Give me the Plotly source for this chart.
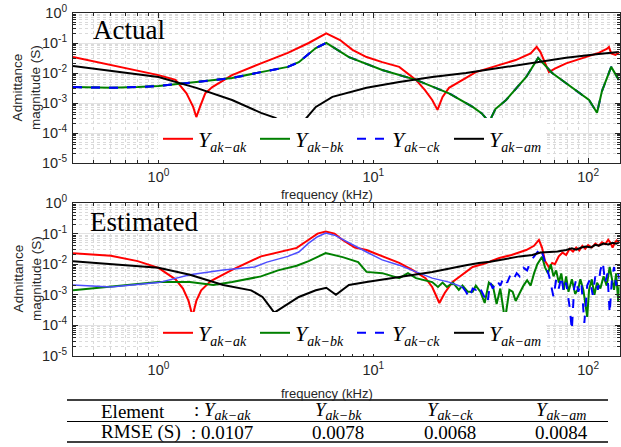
import plotly.graph_objects as go

W, H = 621, 447

# ---------------- data (frequency in kHz, admittance magnitude in S) ----------------
# Actual
act_ak_f = [0.4, 0.6, 0.8, 1.0, 1.2, 1.35, 1.45, 1.5, 1.56, 1.65, 1.78, 2.2, 3.0, 4.0, 5.0, 5.6, 6.04,
            7.0, 8.0, 9.3, 11, 13.2, 15.8, 17.4, 18.8, 19.9, 21, 22.5, 30, 46, 54, 57.6, 60, 65.7,
            70, 79, 112, 122, 125, 128, 134, 140]
act_ak_y = [0.034, 0.0186, 0.012, 0.0085, 0.0059, 0.0021, 7.4e-4, 3.4e-4, 7.4e-4, 0.0021, 0.0034, 0.0085,
            0.021, 0.047, 0.1, 0.16, 0.21, 0.126, 0.059, 0.034, 0.023, 0.016, 0.0059, 0.0027, 0.00126,
            5.9e-4, 0.0016, 0.0032, 0.0107, 0.027, 0.045, 0.074, 0.05, 0.0107, 0.014, 0.021, 0.047,
            0.063, 0.074, 0.045, 0.04, 0.05]

act_bk_f = [0.4, 0.6, 0.8, 1.0, 1.5, 2.2, 3.0, 4.0, 4.5, 5.4, 6.04, 7.7, 11, 15.8, 22.5, 29, 32, 34.6,
            37, 41.5, 51.5, 58.5, 68, 88, 101, 110, 116, 128, 139]
act_bk_y = [0.0034, 0.0032, 0.0034, 0.0037, 0.005, 0.0068, 0.0107, 0.016, 0.023, 0.068, 0.1, 0.034,
            0.0126, 0.0059, 0.0021, 7.4e-4, 4.5e-4, 2.3e-4, 6.3e-4, 0.00126, 0.0074, 0.032, 0.01,
            0.0027, 0.00126, 4.7e-4, 0.0025, 0.016, 0.0059]

act_ck_f = act_bk_f
act_ck_y = act_bk_y

act_am_f = [0.4, 1.0, 1.5, 2.2, 3.0, 3.5, 4.0, 4.2, 4.35, 4.5, 4.7, 5.4, 6.45, 9.3, 13.2, 18.8, 27,
            38.6, 55, 79, 112, 139]
act_am_y = [0.017, 0.0074, 0.0032, 0.00126, 4.7e-4, 3.2e-4, 1.8e-4, 1.4e-4, 2e-5, 1.2e-4, 2.3e-4,
            7.4e-4, 0.0016, 0.0032, 0.005, 0.0074, 0.01, 0.0148, 0.021, 0.032, 0.043, 0.05]

# Estimated
est_ak_f = [0.4, 0.6, 0.8, 1.0, 1.2, 1.3, 1.38, 1.44, 1.5, 1.58, 1.75, 2.2, 3.0, 3.6, 4.4, 5.0, 5.5,
            6.0, 6.6, 7.2, 8.2, 9.3, 11, 13.2, 15.2, 17.5, 18.8, 20.3, 21.5, 23.3, 29, 33, 38.6, 44,
            51.5, 56, 59, 61, 63, 66, 68, 70, 73, 76, 79, 82, 85, 88, 91, 94, 97, 100, 104, 108, 112,
            116, 120, 124, 127, 130, 133, 136, 140]
est_ak_y = [0.023, 0.019, 0.0126, 0.0076, 0.0032, 0.0016, 6.3e-4, 2e-4, 6.3e-4, 0.0014, 0.0028, 0.0065,
            0.018, 0.025, 0.034, 0.063, 0.1, 0.117, 0.1, 0.062, 0.035, 0.029, 0.018, 0.011, 0.0065,
            0.0035, 0.0018, 5.4e-4, 0.00115, 0.0026, 0.0081, 0.0105, 0.016, 0.02, 0.029, 0.04, 0.062,
            0.035, 0.0126, 0.0076, 0.011, 0.01, 0.018, 0.024, 0.02, 0.032, 0.026, 0.035, 0.028, 0.04,
            0.032, 0.042, 0.035, 0.047, 0.04, 0.052, 0.045, 0.063, 0.05, 0.035, 0.05, 0.06, 0.05]

est_bk_f = [0.4, 0.6, 1.0, 1.4, 1.8, 2.2, 3.0, 3.6, 4.4, 5.0, 6.0, 7.2, 8.5, 9.3, 11, 13.2, 14.5, 15.8,
            18.8, 20, 21, 22, 23.5, 25, 26, 27.5, 29, 30, 31.5, 33, 34.5, 36, 37.5, 39, 41, 43, 44.5,
            46, 48, 50, 52, 54, 56, 58, 61, 63, 65, 67, 69, 71, 73, 75, 77, 79, 81, 84, 87, 90, 92,
            95, 99, 101, 104, 107, 110, 114, 118, 122, 126, 129, 132, 135, 138, 140]
est_bk_y = [0.0014, 0.0018, 0.0026, 0.0026, 0.0021, 0.0026, 0.004, 0.0063, 0.0089, 0.0126, 0.023, 0.017,
            0.0117, 0.0056, 0.0051, 0.0035, 0.0051, 0.0035, 0.0026, 0.0018, 0.0025, 0.0018, 0.0025,
            0.00145, 0.002, 0.00126, 0.00126, 0.002, 0.00126, 5.4e-4, 0.0025, 0.002, 5e-4, 0.0016,
            1.5e-4, 0.00145, 0.00126, 6.3e-4, 0.00115, 0.002, 0.003, 0.002, 0.005, 0.01, 0.0174,
            0.0079, 0.005, 0.01, 0.004, 0.0063, 0.0025, 0.005, 0.00145, 0.004, 0.00126, 0.0032,
            0.00107, 0.0016, 0.0032, 0.00145, 1.9e-4, 0.00145, 0.0032, 0.001, 0.0025, 0.0016, 0.004,
            0.002, 0.0081, 0.0032, 0.00145, 0.005, 6.3e-4, 0.002]

est_ck_f = [0.4, 0.6, 1.0, 1.4, 2.0, 2.8, 3.2, 4.0, 4.5, 5.0, 5.5, 6.0, 6.6, 7.7, 9.3, 11, 13.2, 15.8,
            18.8, 22.5, 26, 27, 28, 29, 30, 31, 32.5, 34, 35, 36, 37.5, 39, 40.5, 42, 43.5, 45, 46.5,
            48, 50, 52, 54, 56, 58, 60, 62, 64, 66, 69, 71, 73, 75, 77, 79, 82, 84, 86, 88, 90, 93,
            96, 99, 102, 105, 108, 111, 114, 117, 120, 123, 126, 129, 132, 135, 138, 140]
est_ck_y = [0.0021, 0.0018, 0.0025, 0.0045, 0.0065, 0.0081, 0.0117, 0.018, 0.025, 0.049, 0.079, 0.105,
            0.089, 0.049, 0.025, 0.0138, 0.0093, 0.0056, 0.0035, 0.0026, 0.0018, 0.00126, 7.9e-4,
            0.0016, 0.00145, 0.002, 0.001, 5.4e-4, 0.0025, 0.0016, 0.003, 0.002, 0.0038, 0.0025,
            0.0045, 0.0032, 0.0051, 0.004, 0.0076, 0.0063, 0.0126, 0.0174, 0.025, 0.034, 0.0174,
            0.0079, 0.0038, 8.5e-4, 0.0032, 0.0016, 0.004, 0.00126, 0.0025, 4e-4, 7.1e-5, 0.0016,
            0.0032, 0.00126, 0.0025, 1.2e-4, 0.002, 0.0032, 0.001, 0.004, 0.00145, 0.0063, 0.0117,
            0.0025, 0.005, 2.5e-4, 0.0032, 0.0081, 0.002, 0.005, 0.0032]

est_am_f = [0.4, 0.6, 1.0, 1.4, 2.0, 2.7, 3.05, 3.46, 3.8, 4.5, 5.4, 6.04, 6.7, 7.7, 9.3, 13.2, 18.8,
            27, 31, 35, 38.6, 43, 48, 55, 60, 66, 72, 79, 84, 88, 93, 98, 103, 108, 112, 118, 124,
            130, 135, 140]
est_am_y = [0.0126, 0.01, 0.0076, 0.0045, 0.0021, 0.0014, 8.5e-4, 2.6e-4, 4e-4, 8.5e-4, 0.0014, 0.0017,
            0.001, 0.0021, 0.0026, 0.0038, 0.0056, 0.0093, 0.011, 0.012, 0.0138, 0.016, 0.018, 0.02,
            0.024, 0.025, 0.026, 0.029, 0.033, 0.03, 0.035, 0.038, 0.035, 0.043, 0.04, 0.047, 0.044,
            0.05, 0.047, 0.052]

subs = ["ak\u2212ak", "ak\u2212bk", "ak\u2212ck", "ak\u2212am"]
rmse = ["0.0107", "0.0078", "0.0068", "0.0084"]

ytick_vals = [1e-5, 1e-4, 1e-3, 1e-2, 1e-1, 1]
ytick_text = ["10<sup>-5</sup>", "10<sup>-4</sup>", "10<sup>-3</sup>", "10<sup>-2</sup>",
              "10<sup>-1</sup>", "10<sup>0</sup>"]
xtick_vals = [1, 10, 100]
xtick_text = ["10<sup>0</sup>", "10<sup>1</sup>", "10<sup>2</sup>"]


def label(s, subsize):
    return ("<i>Y</i><sub><span style='font-size:%dpx'><i>%s</i></span></sub>" % (subsize, s))


leg_labels = [label(s, 14) for s in subs]
tab_labels = [label(s, 14) for s in subs]

RED, GREEN, BLUE, BLACK = "#ff0000", "#008000", "#0000ff", "#000000"

fig = go.Figure()


def add(x, y, color, width, name, xa, ya, leg, show=True, dash="solid", rank=None):
    fig.add_trace(go.Scatter(x=x, y=y, mode="lines", name=name, xaxis=xa, yaxis=ya,
                             line=dict(color=color, width=width, dash=dash), legend=leg,
                             showlegend=show,
                             legendrank=rank if rank is not None else 1000))


# top (Actual)
add(act_ak_f, act_ak_y, RED, 2, leg_labels[0], "x", "y", "legend", rank=1)
add(act_ck_f, act_ck_y, BLUE, 2, leg_labels[2], "x", "y", "legend", dash="dash", rank=3)
add(act_bk_f, act_bk_y, GREEN, 2, leg_labels[1], "x", "y", "legend", rank=2)
lo = [i for i, f in enumerate(act_ck_f) if f <= 6.04]
add([act_ck_f[i] for i in lo], [act_ck_y[i] for i in lo], BLUE, 2, leg_labels[2], "x", "y", "legend",
    show=False, dash="dash")
add(act_am_f, act_am_y, BLACK, 2, leg_labels[3], "x", "y", "legend", rank=4)

# bottom (Estimated)
add(est_ak_f, est_ak_y, RED, 2, leg_labels[0], "x2", "y2", "legend2", rank=1)
add(est_bk_f, est_bk_y, GREEN, 2, leg_labels[1], "x2", "y2", "legend2", rank=2)
sm = [i for i, f in enumerate(est_ck_f) if f <= 26]
hi = [i for i, f in enumerate(est_ck_f) if f >= 26]
add([est_ck_f[i] for i in sm], [est_ck_y[i] for i in sm], "#4d4dff", 1.5, leg_labels[2], "x2", "y2",
    "legend2", show=False)
add([est_ck_f[i] for i in hi], [est_ck_y[i] for i in hi], BLUE, 2, leg_labels[2], "x2", "y2", "legend2",
    dash="dash", rank=3)
add(est_am_f, est_am_y, BLACK, 2, leg_labels[3], "x2", "y2", "legend2", rank=4)

AX = "#262626"
tickfont = dict(family="Liberation Sans, Arial, sans-serif", size=14.5, color=AX)
MINOR = dict(dtick="D1", ticks="inside", ticklen=3, tickcolor=AX, showgrid=True,
             gridcolor="#dadada", griddash="dot", gridwidth=1)


def xaxis(anchor):
    return dict(type="log", range=[-0.398, 2.146], anchor=anchor, tickvals=xtick_vals,
                ticktext=xtick_text, ticks="inside", ticklen=5, tickcolor=AX, showline=True,
                linecolor=AX, linewidth=1, mirror="ticks", showgrid=True, gridcolor="#e3e3e3",
                gridwidth=1.3, zeroline=False, tickfont=tickfont, ticklabelstandoff=1,
                minor=MINOR, automargin=False)


def yaxis(anchor):
    return dict(type="log", range=[-5, 0], anchor=anchor, tickvals=ytick_vals, ticktext=ytick_text,
                ticks="inside", ticklen=5, tickcolor=AX, showline=True, linecolor=AX, linewidth=1,
                mirror="ticks", showgrid=True, gridcolor="#e3e3e3", gridwidth=1.3, zeroline=False,
                tickfont=tickfont, ticklabelstandoff=2, minor=MINOR, automargin=False)


def px(xp):
    return xp / W


def py(yp):
    return 1 - yp / H


xd = [px(73), px(619.5)]
serif = "Liberation Serif, DejaVu Serif, serif"
sans = "Liberation Sans, Arial, sans-serif"
legfont = dict(family=serif, size=22, color="#000000")

legcommon = dict(orientation="h", xanchor="left", yanchor="bottom", bgcolor="white", font=legfont,
                 itemwidth=30, tracegroupgap=0, traceorder="normal", entrywidth=52,
                 entrywidthmode="pixels")
fig.update_layout(
    width=W, height=H, margin=dict(l=0, r=0, t=0, b=0),
    paper_bgcolor="white", plot_bgcolor="white",
    xaxis=dict(domain=xd, **xaxis("y")),
    yaxis=dict(domain=[py(163), py(13)], **yaxis("x")),
    xaxis2=dict(domain=xd, **xaxis("y2")),
    yaxis2=dict(domain=[py(356), py(203)], **yaxis("x2")),
    legend=dict(x=px(158), y=py(160), **legcommon),
    legend2=dict(x=px(158), y=py(354), **legcommon),
    showlegend=True,
)

ann = []
ann.append(dict(text="Actual", x=px(91), y=py(30), xref="paper", yref="paper", xanchor="left",
                yanchor="middle", showarrow=False, font=dict(family=serif, size=27, color="#000")))
ann.append(dict(text="Estimated", x=px(88), y=py(222), xref="paper", yref="paper", xanchor="left",
                yanchor="middle", showarrow=False, font=dict(family=serif, size=27, color="#000")))
for yc in (88, 279):
    ann.append(dict(text="Admittance<br>magnitude (S)", x=px(27), y=py(yc), xref="paper",
                    yref="paper", xanchor="center", yanchor="middle", textangle=-90,
                    showarrow=False, font=dict(family=sans, size=13.5, color=AX)))
for yc in (195, 393):
    ann.append(dict(text="frequency (kHz)", x=px(327), y=py(yc), xref="paper", yref="paper",
                    xanchor="center", yanchor="middle", showarrow=False,
                    font=dict(family=sans, size=13, color=AX)))

# table
tfont = dict(family=serif, size=19, color="#000")
ann.append(dict(text="Element", x=px(99), y=py(411), xref="paper", yref="paper", xanchor="left",
                yanchor="middle", showarrow=False, font=tfont))
ann.append(dict(text="RMSE (S)", x=px(99), y=py(432), xref="paper", yref="paper", xanchor="left",
                yanchor="middle", showarrow=False, font=tfont))
colx = [222, 338, 450, 561]
for i in range(4):
    pre = ": " if i == 0 else ""
    ann.append(dict(text=pre + tab_labels[i], x=px(colx[i]), y=py(411), xref="paper", yref="paper",
                    xanchor="center", yanchor="middle", showarrow=False, font=tfont))
    ann.append(dict(text=pre + rmse[i], x=px(colx[i]), y=py(432), xref="paper", yref="paper",
                    xanchor="center", yanchor="middle", showarrow=False, font=tfont))
fig.update_layout(annotations=ann)

shapes = []
for yl, wdt in ((400, 1.6), (421.5, 1.0), (442, 1.6)):
    shapes.append(dict(type="line", xref="paper", yref="paper", x0=px(67), x1=px(608),
                       y0=py(yl), y1=py(yl), line=dict(color="#000", width=wdt)))
fig.update_layout(shapes=shapes)

fig.write_html("out.html")
